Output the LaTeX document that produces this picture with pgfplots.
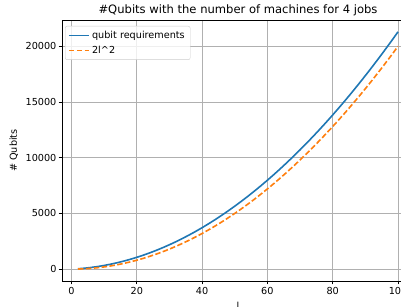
\documentclass[border=0pt]{standalone}
\usepackage{pgfplots}
\pgfplotsset{compat=1.18}
\usepackage{fontspec}
\setmainfont{DejaVu Sans}
\definecolor{mplblue}{HTML}{1F77B4}
\definecolor{mplorange}{HTML}{FF7F0E}
\definecolor{mplgrid}{HTML}{B0B0B0}
\definecolor{mpllegend}{HTML}{CCCCCC}
\begin{document}
\begin{tikzpicture}[x=1bp,y=1bp]
\useasboundingbox (0,0) rectangle (401,307);
\clip (0,0) rectangle (401,307);
\begin{axis}[
  name=ax,
  at={(62bp,26bp)}, anchor=south west, scale only axis,
  width=352bp, height=261bp,
  xmin=-2.9, xmax=104.9, ymin=-1065, ymax=22365,
  xtick={0,20,40,60,80,100},
  ytick={0,5000,10000,15000,20000},
  scaled y ticks=false,
  /pgf/number format/.cd, 1000 sep={}, assume math mode=true, /pgfplots/.cd,
  xtick pos=bottom, ytick pos=left,
  tick align=outside,
  major tick length=3.4bp,
  tick style={black, line width=0.8bp},
  axis line style={black, line width=0.8bp},
  grid=major,
  major grid style={mplgrid, line width=0.8bp},
  ticklabel style={font=\fontsize{9.7}{11.5}\selectfont, inner sep=1bp},
  xticklabel style={yshift=-1.5bp},
  yticklabel style={xshift=-1bp},
  xlabel={l},
  ylabel={\# Qubits},
  label style={font=\fontsize{9.7}{11.5}\selectfont},
  xlabel style={yshift=-3bp},
  ylabel style={yshift=3bp},
  legend style={at={(3bp,255bp)}, anchor=north west, draw=mpllegend, rounded corners=2bp,
    fill=white, fill opacity=0.8, text opacity=1, font=\fontsize{9.7}{11.5}\selectfont,
    inner xsep=3bp, inner ysep=2bp, row sep=0.5bp,
    nodes={text height=7.5bp, text depth=2bp, inner sep=2.5bp}},
  legend cell align=left,
  legend image code/.code={\draw[#1, line width=1.4bp] (0bp,0bp) -- (20bp,0bp);},
]
\addplot[mplblue, line width=1.6bp] coordinates {
(2,34) (4,84) (6,150) (8,232) (10,330) (12,444) (14,574) (16,720) (18,882) (20,1060)
(22,1254) (24,1464) (26,1690) (28,1932) (30,2190) (32,2464) (34,2754) (36,3060) (38,3382) (40,3720)
(42,4074) (44,4444) (46,4830) (48,5232) (50,5650) (52,6084) (54,6534) (56,7000) (58,7482) (60,7980)
(62,8494) (64,9024) (66,9570) (68,10132) (70,10710) (72,11304) (74,11914) (76,12540) (78,13182) (80,13840)
(82,14514) (84,15204) (86,15910) (88,16632) (90,17370) (92,18124) (94,18894) (96,19680) (98,20482) (100,21300)
};
\addlegendentry{qubit requirements}
\addplot[mplorange, line width=1.6bp, dash pattern=on 5.5bp off 2.4bp] coordinates {
(2,8) (4,32) (6,72) (8,128) (10,200) (12,288) (14,392) (16,512) (18,648) (20,800)
(22,968) (24,1152) (26,1352) (28,1568) (30,1800) (32,2048) (34,2312) (36,2592) (38,2888) (40,3200)
(42,3528) (44,3872) (46,4232) (48,4608) (50,5000) (52,5408) (54,5832) (56,6272) (58,6728) (60,7200)
(62,7688) (64,8192) (66,8712) (68,9248) (70,9800) (72,10368) (74,10952) (76,11552) (78,12168) (80,12800)
(82,13448) (84,14112) (86,14792) (88,15488) (90,16200) (92,16928) (94,17672) (96,18432) (98,19208) (100,20000)
};
\addlegendentry{2l\^{}2}
\end{axis}
\node[anchor=base, inner sep=0pt, font=\fontsize{11.6}{14}\selectfont] at ([yshift=6bp]ax.north) {\#Qubits with the number of machines for 4 jobs};
\end{tikzpicture}
\end{document}
